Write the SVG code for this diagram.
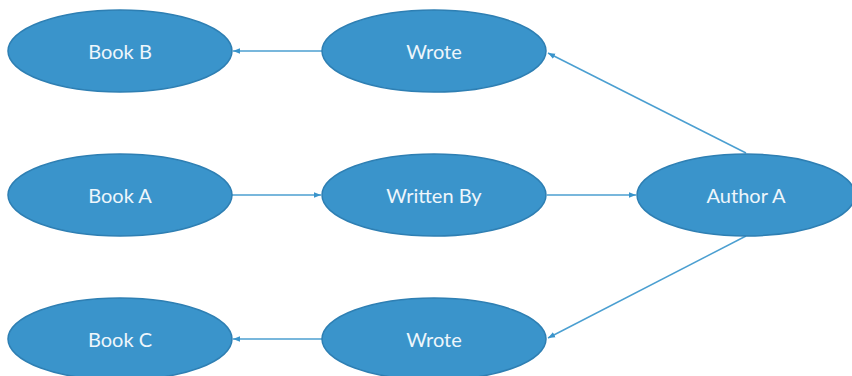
<svg xmlns="http://www.w3.org/2000/svg" width="852" height="376" viewBox="0 0 852 376">
<style>
.node ellipse{fill:#3a94cb;stroke:#2e7fb3;stroke-width:1.5}
.node text{font-family:Lato,"Liberation Sans",sans-serif;font-size:20px;fill:#eef6fb;text-anchor:middle;dominant-baseline:central}
.conn line{stroke:#4b9fd1;stroke-width:1.5;fill:none;marker-end:url(#ah)}
</style>
<defs>
<marker id="ah" viewBox="0 0 10 10" refX="10" refY="5" markerWidth="7" markerHeight="7" markerUnits="userSpaceOnUse" orient="auto">
<path d="M0,1 L10,5 L0,9 Z" fill="#3a94cb"/>
</marker>
</defs>
<rect width="852" height="376" fill="#ffffff"/>
<g id="connectors" class="conn">
<line x1="322" y1="51" x2="233" y2="51"/>
<line x1="232" y1="195" x2="321" y2="195"/>
<line x1="547" y1="195" x2="636" y2="195"/>
<line x1="746" y1="153" x2="548" y2="53"/>
<line x1="746" y1="236" x2="548" y2="338"/>
<line x1="322" y1="339" x2="233" y2="339"/>
</g>
<g id="book-b" class="node"><ellipse cx="120" cy="51" rx="112" ry="41"/><text x="120" y="51">Book B</text></g>
<g id="wrote-top" class="node"><ellipse cx="434" cy="51" rx="112" ry="41"/><text x="434" y="51">Wrote</text></g>
<g id="book-a" class="node"><ellipse cx="120" cy="195" rx="112" ry="41"/><text x="120" y="195">Book A</text></g>
<g id="written-by" class="node"><ellipse cx="434" cy="195" rx="112" ry="41"/><text x="434" y="195">Written By</text></g>
<g id="author-a" class="node"><ellipse cx="746" cy="195" rx="109" ry="41"/><text x="746" y="195">Author A</text></g>
<g id="book-c" class="node"><ellipse cx="120" cy="339" rx="112" ry="41"/><text x="120" y="339">Book C</text></g>
<g id="wrote-bottom" class="node"><ellipse cx="434" cy="339" rx="112" ry="41"/><text x="434" y="339">Wrote</text></g>
</svg>
